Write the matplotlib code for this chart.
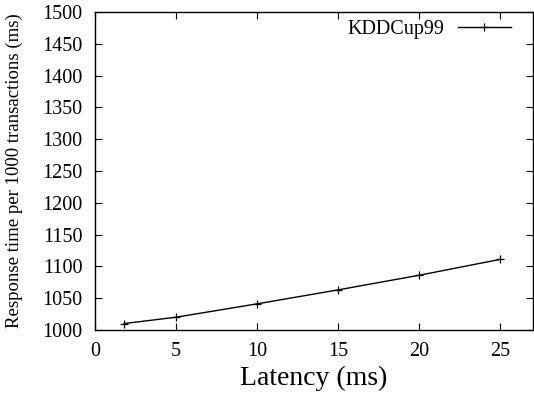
import matplotlib
matplotlib.use("Agg")
import matplotlib.pyplot as plt

# Datos
latencia = [1.8, 5, 10, 15, 20, 25]
respuesta = [1010, 1020, 1041, 1063, 1086, 1111]
serie = "KDDCup99"

plt.rcParams['font.family'] = ['Liberation Serif', 'DejaVu Serif']

fig = plt.figure(figsize=(5.34, 3.97), dpi=100)
ax = fig.add_axes([0.178, 0.169, 0.820, 0.801])

ax.plot(latencia, respuesta, color='black', linewidth=1.0, marker='+',
        markersize=6, markeredgewidth=0.9, label=serie)

ax.set_xlim(0, 27)
ax.set_ylim(1000, 1500)
ax.set_xticks([0, 5, 10, 15, 20, 25])
ax.set_yticks(range(1000, 1501, 50))
ax.tick_params(direction='in', top=True, right=True, labelsize=14.5,
               length=5, width=0.8, pad=9)
for s in ax.spines.values():
    s.set_linewidth(1.0)

ax.set_xlabel("Latency (ms)", fontsize=20, labelpad=3.5)
ax.set_ylabel("Response time per 1000 transactions (ms)", fontsize=13.5, labelpad=14)

ax.legend(loc='upper right', bbox_to_anchor=(0.959, 0.987), frameon=False,
          fontsize=14.5, handlelength=2.65, handletextpad=0.65,
          markerfirst=False, borderaxespad=0, borderpad=0.2)

fig.savefig("out.png", dpi=100)
